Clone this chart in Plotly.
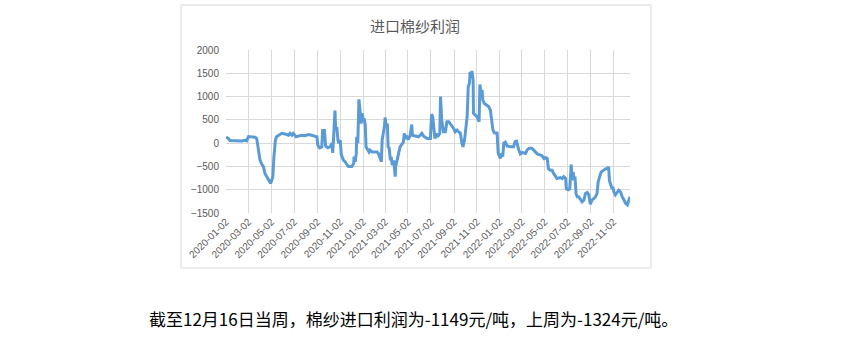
import plotly.graph_objects as go

title_text = "进口棉纱利润"
caption_text = "截至12月16日当周，棉纱进口利润为-1149元/吨，上周为-1324元/吨。"

dates = [
    "2020-01-02", "2020-01-08", "2020-01-13", "2020-02-13", "2020-02-22", "2020-02-26",
    "2020-03-02", "2020-03-20", "2020-03-24", "2020-03-28", "2020-04-02", "2020-04-06",
    "2020-04-11", "2020-04-15", "2020-04-20", "2020-04-24", "2020-04-29", "2020-04-30",
    "2020-05-02", "2020-05-06", "2020-05-09", "2020-05-13", "2020-05-16", "2020-05-21",
    "2020-05-30", "2020-06-08", "2020-06-17", "2020-06-21", "2020-06-26", "2020-06-30",
    "2020-07-07", "2020-07-13", "2020-07-22", "2020-07-31", "2020-08-09", "2020-08-18",
    "2020-08-27", "2020-09-01", "2020-09-03", "2020-09-08", "2020-09-14", "2020-09-16",
    "2020-09-21", "2020-09-24", "2020-09-30", "2020-10-06", "2020-10-11", "2020-10-13",
    "2020-10-16", "2020-10-19", "2020-10-21", "2020-10-24", "2020-10-27", "2020-10-29",
    "2020-11-02", "2020-11-05", "2020-11-11", "2020-11-15", "2020-11-20", "2020-11-24",
    "2020-12-03", "2020-12-08", "2020-12-09", "2020-12-12", "2020-12-15", "2020-12-16",
    "2020-12-19", "2020-12-22", "2020-12-25", "2020-12-28", "2020-12-31", "2021-01-02",
    "2021-01-05", "2021-01-08", "2021-01-10", "2021-01-14", "2021-01-18", "2021-01-21",
    "2021-01-26", "2021-02-08", "2021-02-12", "2021-02-17", "2021-02-20", "2021-02-22",
    "2021-02-25", "2021-02-28", "2021-03-02", "2021-03-05", "2021-03-08", "2021-03-10",
    "2021-03-13", "2021-03-16", "2021-03-18", "2021-03-21", "2021-03-25", "2021-03-27",
    "2021-03-29", "2021-03-30", "2021-04-02", "2021-04-07", "2021-04-11", "2021-04-16",
    "2021-04-20", "2021-04-22", "2021-04-25", "2021-04-29", "2021-05-03", "2021-05-08",
    "2021-05-12", "2021-05-14", "2021-05-21", "2021-05-30", "2021-06-04", "2021-06-08",
    "2021-06-13", "2021-06-22", "2021-07-01", "2021-07-04", "2021-07-07", "2021-07-09",
    "2021-07-13", "2021-07-17", "2021-07-20", "2021-07-26", "2021-07-28", "2021-07-31",
    "2021-08-03", "2021-08-05", "2021-08-10", "2021-08-14", "2021-08-19", "2021-08-23",
    "2021-08-28", "2021-09-01", "2021-09-05", "2021-09-10", "2021-09-14", "2021-09-19",
    "2021-09-23", "2021-09-26", "2021-09-30", "2021-10-03", "2021-10-07", "2021-10-10",
    "2021-10-13", "2021-10-15", "2021-10-17", "2021-10-20", "2021-10-23", "2021-10-24",
    "2021-10-28", "2021-11-02", "2021-11-06", "2021-11-08", "2021-11-10", "2021-11-13",
    "2021-11-16", "2021-11-18", "2021-11-22", "2021-11-27", "2021-12-04", "2021-12-08",
    "2021-12-13", "2021-12-15", "2021-12-19", "2021-12-26", "2021-12-29", "2022-01-01",
    "2022-01-04", "2022-01-06", "2022-01-10", "2022-01-13", "2022-01-17", "2022-01-22",
    "2022-01-31", "2022-02-08", "2022-02-12", "2022-02-16", "2022-02-19", "2022-02-22",
    "2022-02-26", "2022-03-03", "2022-03-12", "2022-03-16", "2022-03-21", "2022-03-29",
    "2022-04-03", "2022-04-07", "2022-04-12", "2022-04-19", "2022-04-25", "2022-04-30",
    "2022-05-04", "2022-05-09", "2022-05-12", "2022-05-17", "2022-05-22", "2022-05-26",
    "2022-05-31", "2022-06-04", "2022-06-13", "2022-06-18", "2022-06-22", "2022-06-27",
    "2022-06-29", "2022-07-04", "2022-07-08", "2022-07-12", "2022-07-14", "2022-07-17",
    "2022-07-20", "2022-07-22", "2022-07-25", "2022-07-28", "2022-08-01", "2022-08-06",
    "2022-08-10", "2022-08-15", "2022-08-19", "2022-08-24", "2022-08-28", "2022-09-01",
    "2022-09-06", "2022-09-10", "2022-09-15", "2022-09-19", "2022-09-22", "2022-09-26",
    "2022-09-30", "2022-10-07", "2022-10-12", "2022-10-16", "2022-10-20", "2022-10-22",
    "2022-10-26", "2022-10-29", "2022-10-31", "2022-11-03", "2022-11-07", "2022-11-12",
    "2022-11-16", "2022-11-21", "2022-11-25", "2022-11-30", "2022-12-04", "2022-12-09",
    "2022-12-13", "2022-12-16",
]

profit = [
    130, 100, 55, 45, 60, 50,
    140, 125, 100, -80, -370, -440,
    -510, -650, -720, -760, -830, -860,
    -830, -720, -290, 65, 136, 160,
    210, 195, 170, 210, 170, 210,
    136, 150, 170, 160, 185, 170,
    150, 136, -40, -100, -80, 270,
    270, -60, -100, -80, 0, -210,
    210, 700, 280, 350, 65, 0,
    65, -250, -370, -400, -460, -500,
    -500, -440, -290, -400, -220, 135,
    0, 940, 710, 420, 640, 500,
    530, 390, -80, -150, -190, -150,
    -190, -190, -220, -330, -400, 65,
    210, 350, 550, 350, 420, -80,
    -110, -370, -290, -470, -370, -650,
    -720, -510, -370, -220, -80, 0,
    30, 210, 100, 135, 80, 170,
    400, 170, 150, 136, 170, 210,
    150, 100, 100, 620, 570, 350,
    100, 210, 136, 210, 1000, 500,
    280, 245, 245, 460, 460, 420,
    350, 315, 245, 280, 245, 210,
    0, -80, 65, 280, 570, 1210,
    1280, 1530, 1430, 1550, 1350, 640,
    600, 570, 500, 460, 1260, 1070,
    1140, 925, 850, 820, 780, 710,
    420, 280, 220, 220, -220, -290,
    -330, -220, -290, 0, 20, -60,
    -80, -80, 30, 40, -80, -150,
    -230, -200, -220, -150, -110, -110,
    -150, -190, -230, -250, -270, -330,
    -310, -330, -550, -580, -580, -650,
    -710, -760, -740, -760, -720, -760,
    -980, -1000, -980, -460, -800, -620,
    -800, -720, -1080, -1150, -1150, -1220,
    -1260, -1220, -1080, -1060, -1110, -1310,
    -1220, -1190, -1150, -1080, -830, -720,
    -620, -580, -550, -550, -510, -800,
    -940, -980, -940, -1050, -1110, -1060,
    -1010, -1050, -1150, -1220, -1290, -1324,
    -1190, -1149,
]

tick_dates = [
    "2020-01-02", "2020-03-02", "2020-05-02", "2020-07-02", "2020-09-02", "2020-11-02",
    "2021-01-02", "2021-03-02", "2021-05-02", "2021-07-02", "2021-09-02", "2021-11-02",
    "2022-01-02", "2022-03-02", "2022-05-02", "2022-07-02", "2022-09-02", "2022-11-02",
]
y_ticks = [-1500, -1000, -500, 0, 500, 1000, 1500, 2000]

fig = go.Figure()
fig.add_trace(go.Scatter(
    x=dates, y=profit, mode="lines",
    line=dict(color="#5B9BD5", width=3),
    showlegend=False, hoverinfo="skip",
))

grid = "#d9d9d9"
tick_font = dict(family="Liberation Sans, Arial, sans-serif", size=10, color="#595959")

fig.update_layout(
    width=843, height=352,
    margin=dict(l=226, r=213, t=50, b=139),
    paper_bgcolor="white", plot_bgcolor="white",
    font=dict(family="Noto Sans CJK SC"),
    xaxis=dict(
        type="date", range=["2020-01-02", "2022-12-16"],
        tickmode="array", tickvals=tick_dates, ticktext=tick_dates,
        tickangle=-45, tickfont=tick_font,
        showgrid=True, gridcolor=grid, gridwidth=1,
        showline=False, zeroline=False, ticks="",
    ),
    yaxis=dict(
        range=[-1500, 2000], tickmode="array", tickvals=y_ticks,
        tickfont=tick_font, ticklabelstandoff=6,
        showgrid=True, gridcolor=grid, gridwidth=1,
        showline=False, zeroline=False, ticks="",
    ),
    shapes=[dict(
        type="rect", xref="paper", yref="paper",
        x0=(181 - 226) / 404, x1=(651 - 226) / 404,
        y0=(213 - 268) / 163, y1=(213 - 5) / 163,
        line=dict(color="#d9d9d9", width=1), fillcolor="rgba(0,0,0,0)", layer="below",
    )],
    annotations=[
        dict(text=title_text, xref="paper", yref="paper",
             x=(415 - 226) / 404, y=(213 - 25) / 163, xanchor="center", yanchor="middle",
             showarrow=False,
             font=dict(family="Noto Sans CJK SC", size=15, color="#595959")),
        dict(text=caption_text, xref="paper", yref="paper",
             x=(413 - 226) / 404, y=(213 - 318) / 163, xanchor="center", yanchor="middle",
             showarrow=False,
             font=dict(family="Noto Sans CJK SC", size=17, color="#000000")),
    ],
)

fig.write_html("out.html")
